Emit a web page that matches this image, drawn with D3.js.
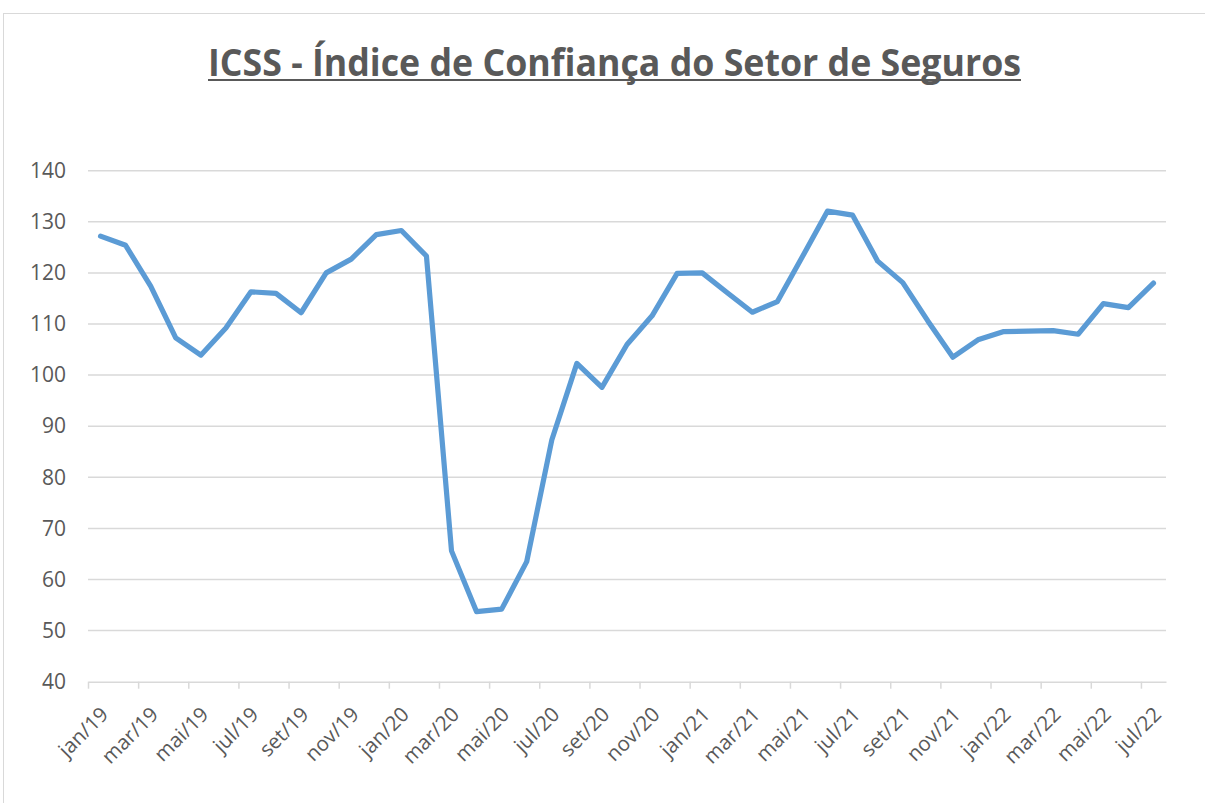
<!DOCTYPE html>
<html>
<head>
<meta charset="utf-8">
<script src="https://cdn.jsdelivr.net/npm/d3@7"></script>
<style>
  html, body { margin: 0; padding: 0; background: #fff; }
  svg { display: block; }
</style>
</head>
<body>
<svg id="chart"></svg>
<script>
// ICSS monthly values, jan/19 .. jul/22
const months = [
  "jan/19","fev/19","mar/19","abr/19","mai/19","jun/19","jul/19","ago/19","set/19","out/19","nov/19","dez/19",
  "jan/20","fev/20","mar/20","abr/20","mai/20","jun/20","jul/20","ago/20","set/20","out/20","nov/20","dez/20",
  "jan/21","fev/21","mar/21","abr/21","mai/21","jun/21","jul/21","ago/21","set/21","out/21","nov/21","dez/21",
  "jan/22","fev/22","mar/22","abr/22","mai/22","jun/22","jul/22"
]
const icss = [
  127.2, 125.4, 117.4, 107.3, 103.9, 109.2, 116.3, 116.0, 112.2, 120.0, 122.7, 127.5,
  128.3, 123.3, 65.6, 53.7, 54.2, 63.5, 87.3, 102.3, 97.6, 106.0, 111.6, 119.9,
  120.0, 116.1, 112.3, 114.4, 123.2, 132.1, 131.3, 122.3, 118.1, 110.6, 103.5, 106.9,
  108.5, 108.6, 108.7, 108.0, 114.0, 113.2, 118.0
]
const yTicks = [40, 50, 60, 70, 80, 90, 100, 110, 120, 130, 140]

const width = 1205
const height = 803
const title = "ICSS - Índice de Confiança do Setor de Seguros"
const grey = "#595959"

const svg = d3.select("#chart")
  .attr("width", width)
  .attr("height", height)

// chart area frame
svg.append("rect")
  .attr("x", 3.5)
  .attr("y", 13.5)
  .attr("width", 1220)
  .attr("height", 820)
  .attr("fill", "#fff")
  .attr("stroke", "#d9d9d9")
  .attr("stroke-width", 1)

// title
svg.append("text")
  .attr("x", 614.5)
  .attr("y", 76)
  .attr("text-anchor", "middle")
  .attr("font-family", "'Open Sans', sans-serif")
  .attr("font-weight", 700)
  .attr("font-size", 38)
  .attr("fill", grey)
  .attr("textLength", 813)
  .attr("lengthAdjust", "spacingAndGlyphs")
  .text(title)

svg.append("line")
  .attr("x1", 208).attr("x2", 1021)
  .attr("y1", 80).attr("y2", 80)
  .attr("stroke", grey)
  .attr("stroke-width", 2.2)

// scales: month index, points sit in the middle of each month slot
const x = d3.scaleLinear()
  .domain([0, months.length])
  .range([88, 1166])

const y = d3.scaleLinear()
  .domain([40, 140])
  .range([681.7, 170.7])

// gridlines
svg.append("g")
  .selectAll("line")
  .data(yTicks.slice(1))
  .join("line")
    .attr("x1", x(0)).attr("x2", x(months.length))
    .attr("y1", d => y(d)).attr("y2", d => y(d))
    .attr("stroke", "#d9d9d9")
    .attr("stroke-width", 1.5)

// y axis labels
const yAxis = svg.append("g")
  .attr("transform", `translate(${x(0)},0)`)
  .call(d3.axisLeft(y).tickValues(yTicks).tickSize(0).tickPadding(22))
yAxis.select(".domain").remove()
yAxis.selectAll("text")
  .attr("font-family", "'Open Sans', sans-serif")
  .attr("font-size", 21)
  .attr("fill", grey)

// x axis
const evenIdx = d3.range(0, months.length, 2)
const xAxis = svg.append("g")
  .attr("transform", `translate(0,${y(40)})`)
  .call(d3.axisBottom(x).tickValues(evenIdx).tickFormat(i => months[i]).tickSize(7).tickSizeOuter(0))
xAxis.select(".domain")
  .attr("stroke", "#d9d9d9")
  .attr("stroke-width", 1.5)
xAxis.selectAll(".tick line")
  .attr("stroke", "#d9d9d9")
  .attr("stroke-width", 1.5)
xAxis.selectAll(".tick text")
  .attr("font-family", "'Open Sans', sans-serif")
  .attr("font-size", 20.5)
  .attr("fill", grey)
  .attr("text-anchor", "end")
  .attr("dy", 0)
  .attr("y", 0)
  .attr("transform", "translate(21,34) rotate(-45)")

// the series
const line = d3.line()
  .x((d, i) => x(i + 0.5))
  .y(d => y(d))

svg.append("path")
  .datum(icss)
  .attr("d", line)
  .attr("fill", "none")
  .attr("stroke", "#5b9bd5")
  .attr("stroke-width", 5.2)
  .attr("stroke-linejoin", "round")
  .attr("stroke-linecap", "round")
</script>
</body>
</html>
